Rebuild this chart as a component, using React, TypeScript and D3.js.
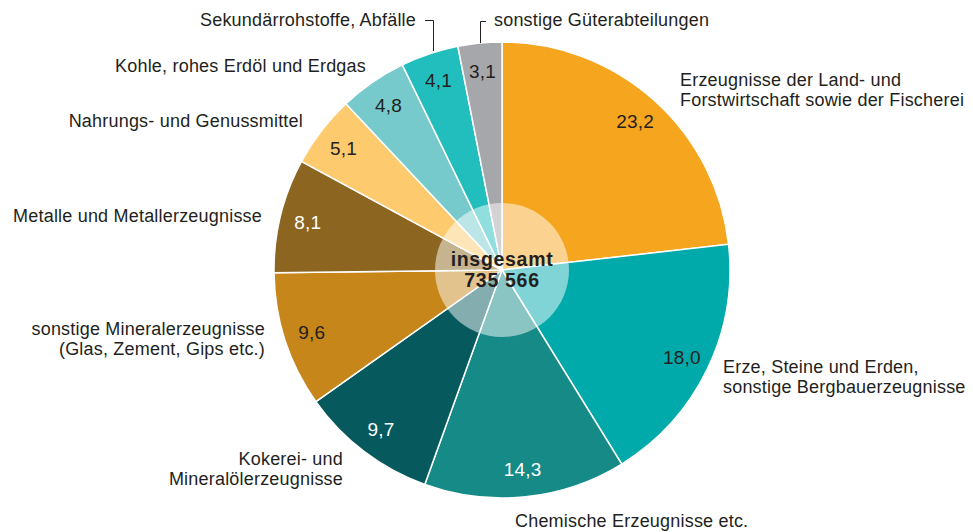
import * as d3 from "d3";
import { useEffect, useRef } from "react";

// Anteile in Prozent, im Uhrzeigersinn ab 12 Uhr
const categories = [
  "Erzeugnisse der Land- und Forstwirtschaft sowie der Fischerei",
  "Erze, Steine und Erden, sonstige Bergbauerzeugnisse",
  "Chemische Erzeugnisse etc.",
  "Kokerei- und Mineralölerzeugnisse",
  "sonstige Mineralerzeugnisse (Glas, Zement, Gips etc.)",
  "Metalle und Metallerzeugnisse",
  "Nahrungs- und Genussmittel",
  "Kohle, rohes Erdöl und Erdgas",
  "Sekundärrohstoffe, Abfälle",
  "sonstige Güterabteilungen",
];
const values = [23.2, 18.0, 14.3, 9.7, 9.6, 8.1, 5.1, 4.8, 4.1, 3.1];
const valueLabels = ["23,2", "18,0", "14,3", "9,7", "9,6", "8,1", "5,1", "4,8", "4,1", "3,1"];
const colors = [
  "#F6A51E", "#00A9AA", "#168A87", "#065A5E", "#C6861A",
  "#8C6621", "#FDCB6E", "#77CACC", "#22BDBD", "#A6A7AB",
];
const lightText = [false, false, true, true, false, true, false, false, false, false];

// Beschriftungen außen: Zeilen, Position, Ausrichtung
const outerLabels = [
  { lines: ["Erzeugnisse der Land- und", "Forstwirtschaft sowie der Fischerei"], x: 680, y: 86, anchor: "start" },
  { lines: ["Erze, Steine und Erden,", "sonstige Bergbauerzeugnisse"], x: 723, y: 373, anchor: "start" },
  { lines: ["Chemische Erzeugnisse etc."], x: 515, y: 527, anchor: "start" },
  { lines: ["Kokerei- und", "Mineralölerzeugnisse"], x: 343, y: 465, anchor: "end" },
  { lines: ["sonstige Mineralerzeugnisse", "(Glas, Zement, Gips etc.)"], x: 265, y: 335, anchor: "end" },
  { lines: ["Metalle und Metallerzeugnisse"], x: 262, y: 222, anchor: "end" },
  { lines: ["Nahrungs- und Genussmittel"], x: 303, y: 127, anchor: "end" },
  { lines: ["Kohle, rohes Erdöl und Erdgas"], x: 366, y: 72, anchor: "end" },
  { lines: ["Sekundärrohstoffe, Abfälle"], x: 416, y: 26, anchor: "end" },
  { lines: ["sonstige Güterabteilungen"], x: 494, y: 26, anchor: "start" },
];

const totalLabel = ["insgesamt", "735 566"];

const App = () => {
  const ref = useRef<SVGSVGElement | null>(null);
  const width = 973;
  const height = 532;
  const cx = 502;
  const cy = 270;
  const radius = 228;

  useEffect(() => {
    const svg = d3.select(ref.current);
    svg.selectAll("*").remove();
    const font = "'Liberation Sans', Arial, Helvetica, sans-serif";

    const pie = d3.pie<number>().sort(null).value((d) => d);
    const arcs = pie(values);
    const arc = d3.arc<d3.PieArcDatum<number>>().innerRadius(0).outerRadius(radius);
    const labelArc = d3.arc<d3.PieArcDatum<number>>().innerRadius(200).outerRadius(200);

    const g = svg.append("g").attr("transform", `translate(${cx},${cy})`);

    g.selectAll("path.slice")
      .data(arcs)
      .join("path")
      .attr("class", "slice")
      .attr("d", arc)
      .attr("fill", (_, i) => colors[i])
      .attr("stroke", "#fff")
      .attr("stroke-width", 1.5);

    // helle Kreisfläche in der Mitte
    g.append("circle").attr("r", 67).attr("fill", "#fff").attr("fill-opacity", 0.5);

    g.selectAll("text.value")
      .data(arcs)
      .join("text")
      .attr("class", "value")
      .attr("transform", (d) => `translate(${labelArc.centroid(d)})`)
      .attr("text-anchor", "middle")
      .attr("dy", "0.36em")
      .attr("font-family", font)
      .attr("font-size", 19)
      .attr("letter-spacing", 0.2)
      .attr("fill", (_, i) => (lightText[i] ? "#fff" : "#231F20"))
      .text((_, i) => valueLabels[i]);

    g.selectAll("text.total")
      .data(totalLabel)
      .join("text")
      .attr("class", "total")
      .attr("text-anchor", "middle")
      .attr("y", (_, i) => -4 + i * 21)
      .attr("font-family", font)
      .attr("font-size", 19.5)
      .attr("letter-spacing", 0.7)
      .attr("font-weight", "bold")
      .attr("fill", "#231F20")
      .text((d) => d);

    // äußere Beschriftungen
    outerLabels.forEach((l) => {
      const t = svg
        .append("text")
        .attr("x", l.x)
        .attr("y", l.y)
        .attr("text-anchor", l.anchor)
        .attr("font-family", font)
        .attr("font-size", 18)
        .attr("letter-spacing", 0.2)
        .attr("fill", "#231F20");
      l.lines.forEach((line, i) => {
        t.append("tspan").attr("x", l.x).attr("dy", i === 0 ? 0 : 19.5).text(line);
      });
    });

    // Führungslinien für die kleinen Segmente
    svg
      .append("path")
      .attr("d", "M425,20.5H433.5V51")
      .attr("fill", "none")
      .attr("stroke", "#231F20")
      .attr("stroke-width", 1);
    svg
      .append("path")
      .attr("d", "M486,21.5H480.5V43")
      .attr("fill", "none")
      .attr("stroke", "#231F20")
      .attr("stroke-width", 1);
  }, []);

  return (
    <svg
      ref={ref}
      width={width}
      height={height}
      style={{ position: "absolute", left: 0, top: 0, display: "block" }}
    />
  );
};

export default App;
